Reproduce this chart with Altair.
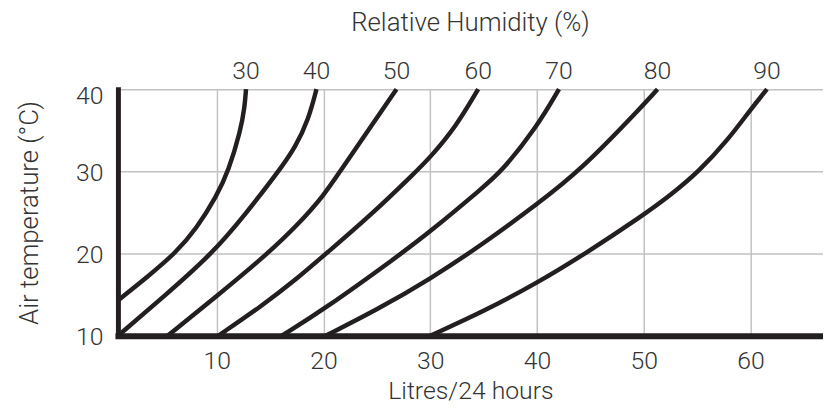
import altair as alt
import pandas as pd

# Relative humidity curves (label, then x = litres/24h, y = air temperature)
rh = [30, 40, 50, 60, 70, 80, 90]

x30 = [0.75, 3.55, 6.1, 8.1, 10.0, 11.1, 12.25, 12.62, 12.75]
y30 = [14.3, 17.2, 20.0, 23.0, 27.0, 30.0, 35.0, 37.8, 40.0]

x40 = [0.75, 4.9, 9.6, 12.7, 15.8, 17.4, 18.6, 19.35]
y40 = [10.0, 14.6, 20.0, 24.8, 30.0, 33.0, 36.3, 40.0]

x50 = [5.4, 10.0, 14.8, 17.6, 20.0, 21.5, 24.2, 26.85]
y50 = [10.0, 14.8, 20.0, 23.5, 27.0, 29.9, 35.0, 40.0]

x60 = [10.15, 14.2, 17.4, 20.25, 24.3, 28.7, 30.0, 32.4, 34.5]
y60 = [10.0, 13.6, 16.8, 20.0, 24.5, 30.0, 31.7, 35.4, 40.0]

x70 = [16.1, 20.0, 27.0, 30.0, 35.0, 36.7, 40.0, 42.07]
y70 = [10.0, 13.15, 19.7, 22.65, 28.1, 30.0, 35.4, 40.0]

x80 = [20.2, 25.0, 30.0, 35.0, 40.0, 44.0, 50.0, 51.3]
y80 = [10.0, 13.15, 16.9, 21.2, 26.0, 30.0, 38.1, 40.0]

x90 = [30.0, 35.0, 40.0, 44.55, 50.0, 52.46, 55.2, 58.0, 60.0, 61.55]
y90 = [10.0, 12.95, 16.4, 20.0, 24.7, 27.05, 30.0, 34.0, 37.5, 40.0]

xs_all = [x30, x40, x50, x60, x70, x80, x90]
ys_all = [y30, y40, y50, y60, y70, y80, y90]

x_ticks = [10, 20, 30, 40, 50, 60]
y_ticks = [10, 20, 30, 40]

rows = []
for r, xs, ys in zip(rh, xs_all, ys_all):
    for i, (a, b) in enumerate(zip(xs, ys)):
        rows.append({"rh": r, "x": a, "y": b, "i": i})
df = pd.DataFrame(rows)

labels = pd.DataFrame({
    "rh": rh,
    "x": [xs[-1] for xs in xs_all],
    "y": [ys[-1] for ys in ys_all],
    "label": [str(r) for r in rh],
})

FONT = "Roboto"
FW = 300
TXT = "#333333"
INK = "#231f20"
FS = 25
TFS = 26

xscale = alt.Scale(domain=[0.75, 66.8], nice=False, zero=False)
yscale = alt.Scale(domain=[10, 40], nice=False, zero=False)

xaxis = alt.Axis(
    values=x_ticks, title="Litres/24 hours", ticks=False, tickSize=0,
    labelPadding=13, titlePadding=5, domainWidth=6, domainColor=INK,
    domainCap="square", titleFontSize=FS,
)
yaxis = alt.Axis(
    values=y_ticks, title="Air temperature (°C)", ticks=False, tickSize=0,
    labelPadding=15, titlePadding=33, domainWidth=5, domainColor=INK,
    domainCap="square", titleFontSize=TFS,
    labelOffset={"condition": {"test": "datum.value === 40", "value": 6}, "value": 1},
)

lines = alt.Chart(df).mark_line(
    interpolate="basis", strokeWidth=4.5, color=INK, strokeCap="butt"
).encode(
    x=alt.X("x:Q", scale=xscale, axis=xaxis),
    y=alt.Y("y:Q", scale=yscale, axis=yaxis),
    detail="rh:N",
    order="i:Q",
)

text = alt.Chart(labels).mark_text(
    font=FONT, fontSize=FS, fontWeight=FW, color=TXT, baseline="alphabetic",
    dy=-10, align="center"
).encode(
    x=alt.X("x:Q", scale=xscale, axis=xaxis),
    y=alt.Y("y:Q", scale=yscale, axis=yaxis),
    text="label:N",
)

chart = alt.layer(lines, text).properties(
    width=712,
    height=249,
    title=alt.Title(
        "Relative Humidity (%)", fontSize=TFS, font=FONT, fontWeight=FW,
        color=TXT, anchor="middle", frame="group", offset=3, baseline="alphabetic",
    ),
    autosize=alt.AutoSizeParams(type="none"),
    padding={"left": 111, "top": 80, "right": 0, "bottom": 69},
).configure_view(stroke=None).configure_axis(
    labelFont=FONT, titleFont=FONT, labelFontSize=FS,
    labelFontWeight=FW, titleFontWeight=FW, labelColor=TXT, titleColor=TXT,
    gridColor="#c2c2c2", gridWidth=1.5,
)

chart.save("out.html", embed_options={"renderer": "svg", "actions": False})
